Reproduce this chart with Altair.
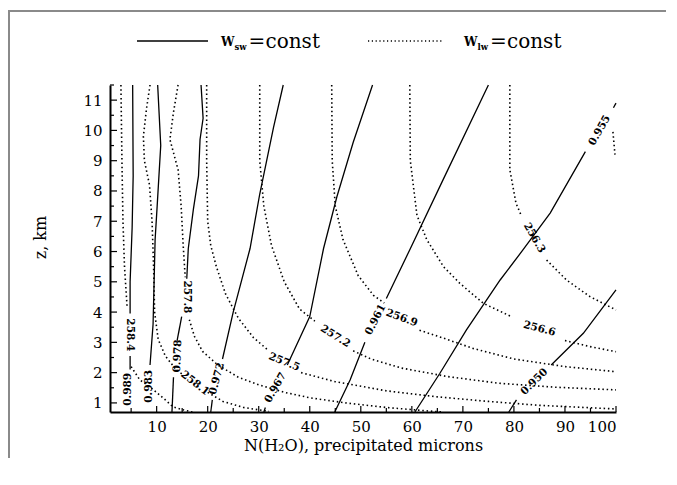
import altair as alt
import pandas as pd

# ---------------- data ----------------
# Solid contours: W_sw = const  (x = N(H2O) microns, z = km); None splits segments (label gap)
sw_labels = ["0.989", "0.983", "0.978", "0.972", "0.967", "0.961", "0.955", "0.950"]
sw_x = [
    [4.8, 4.8, None, 4.8, 4.8, 5.2, 5.4, 5.3],
    [8.7, 9.3, 9.7, 10.1, 10.8, 10.2],
    [13.0, 13.3, None, 14.0, 14.9, None, 15.9, 16.2, 17.2, 18.2, 18.5, 19.1, 18.7],
    [20.6, 20.9, None, 22.9, 25.0, 28.3, 30.2, 32.9, 34.8],
    [31.0, 31.3, None, 35.6, 40.0, 42.7, 45.3, 48.5, 52.3],
    [44.9, 47.9, 50.8, None, 55.0, 59.6, 66.2, 75.0],
    [60.6, 65.5, 70.7, 77.3, 81.8, 87.1, 94.0, None, 99.5, 100.0],
    [79.0, 80.5, None, 87.3, 93.6, 100.0],
]
sw_z = [
    [2.1, 2.55, None, 3.95, 5.0, 6.8, 8.5, 11.5],
    [2.25, 3.6, 6.4, 7.5, 9.5, 11.5],
    [0.7, 1.85, None, 3.05, 3.85, None, 5.1, 6.1, 7.4, 8.5, 9.7, 10.4, 11.5],
    [0.7, 1.1, None, 2.45, 4.0, 6.1, 7.9, 10.1, 11.5],
    [0.7, 0.85, None, 2.25, 3.85, 6.1, 7.8, 9.6, 11.5],
    [0.7, 1.76, 3.0, None, 4.45, 6.06, 8.4, 11.5],
    [0.7, 1.98, 3.41, 5.06, 6.06, 7.27, 9.3, None, 10.75, 10.9],
    [0.7, 1.1, None, 2.25, 3.3, 4.73],
]
sw_label_x = [4.3, 8.5, 14.1, 21.8, 33.3, 52.9, 96.8, 84.0]
sw_label_z = [1.45, 1.55, 2.55, 1.8, 1.5, 3.75, 10.0, 1.7]
sw_label_angle = [270, 270, 272, 285, 300, 297, 300, 315]

# Dotted contours: W_lw = const
lw_labels = ["258.4", "258.1", "257.8", "257.5", "257.2", "256.9", "256.6", "256.3", ""]
lw_x = [
    [3.0, 3.2, 3.4, 3.7, 4.2, None, 5.0, 6.7, 8.5, 10.1, 11.7, 13.2, 15.0, 17.0],
    [8.7, 8.0, 7.4, 7.6, 8.6, 9.1, 9.4, 9.6, 10.3, 11.7, 13.8, 15.0, None, 20.0, 23.0, 27.0, 32.0],
    [14.2, 13.3, 12.6, 14.2, 14.8, 15.2, 15.6, None, 16.4, 17.4, 19.0, 22.0, 26.0, 30.0, 35.0, 40.0, 47.0, 55.0, 62.0, 66.0],
    [19.8, 19.8, 20.0, 20.6, 21.7, 23.5, 26.0, 29.0, 31.8, None, 38.3, 45.0, 55.0, 65.0, 75.0, 85.0, 100.0],
    [30.2, 30.2, 31.0, 32.5, 35.0, 38.0, 41.0, None, 48.5, 52.0, 58.0, 67.0, 77.0, 88.0, 100.0],
    [44.3, 44.4, 45.0, 46.5, 49.5, 52.5, 54.6, None, 61.5, 66.0, 72.0, 80.0, 90.0, 100.0],
    [59.6, 59.7, 61.0, 62.9, 66.2, 69.4, 74.0, 79.5, None, 90.0, 94.9, 100.0],
    [79.2, 79.2, 80.4, 81.4, None, 86.4, 90.3, 94.9, 100.0],
    [99.4, 99.8],
]
lw_z = [
    [11.5, 9.0, 7.0, 5.5, 4.2, None, 2.2, 1.76, 1.55, 1.33, 1.1, 0.87, 0.78, 0.7],
    [11.5, 10.7, 9.8, 9.0, 8.2, 7.0, 5.5, 4.0, 3.1, 2.55, 2.1, 1.95, None, 1.35, 1.05, 0.85, 0.72],
    [11.5, 10.6, 9.7, 8.7, 7.5, 6.2, 5.15, None, 3.75, 3.2, 2.7, 2.25, 1.85, 1.6, 1.35, 1.17, 1.0, 0.85, 0.75, 0.7],
    [11.5, 9.0, 7.0, 6.2, 5.5, 4.6, 3.8, 3.15, 2.75, None, 2.0, 1.7, 1.4, 1.2, 1.05, 0.92, 0.8],
    [11.5, 9.0, 7.5, 6.2, 5.0, 4.1, 3.7, None, 2.72, 2.45, 2.15, 1.87, 1.65, 1.52, 1.43],
    [11.5, 9.0, 7.5, 6.4, 5.2, 4.55, 4.3, None, 3.4, 3.15, 2.8, 2.45, 2.2, 2.03],
    [11.5, 9.0, 7.2, 6.4, 5.5, 4.95, 4.29, 3.85, None, 3.06, 2.86, 2.69],
    [11.5, 8.7, 7.6, 7.2, None, 5.72, 5.06, 4.51, 4.07],
    [9.95, 9.2],
]
lw_label_x = [4.8, 17.5, 16.0, 35.0, 45.0, 58.0, 85.0, 84.0, 0]
lw_label_z = [3.25, 1.65, 4.5, 2.35, 3.2, 3.8, 3.45, 6.45, 0]
lw_label_angle = [90, 38, 90, 22, 32, 20, 15, 60, 0]

x_ticks_major = [10, 20, 30, 40, 50, 60, 70, 80, 90, 100]
x_ticks_minor = [5, 15, 25, 35, 45, 55, 65, 75, 85, 95]
y_ticks_major = [1, 2, 3, 4, 5, 6, 7, 8, 9, 10, 11]
y_ticks_minor = [1.5, 2.5, 3.5, 4.5, 5.5, 6.5, 7.5, 8.5, 9.5, 10.5, 11.5]

legend_symbols = ["W", "sw", "W", "lw"]
legend_rest = ["=", "const", "=", "const"]

X_DOMAIN = [0.86, 100]
Z_DOMAIN = [0.7, 11.5]
W, H = 506, 327
FONT = "DejaVu Serif"


def to_rows(xs, zs, prefix):
    rows = []
    for i, (xl, zl) in enumerate(zip(xs, zs)):
        seg = 0
        order = 0
        for xv, zv in zip(xl, zl):
            if xv is None:
                seg += 1
                continue
            rows.append({"id": f"{prefix}{i}_{seg}", "x": xv, "z": zv, "o": order})
            order += 1
    return pd.DataFrame(rows)


sw_df = to_rows(sw_x, sw_z, "sw")
lw_df = to_rows(lw_x, lw_z, "lw")

lab_df = pd.DataFrame({
    "text": sw_labels + [t for t in lw_labels if t],
    "x": sw_label_x + [v for v, t in zip(lw_label_x, lw_labels) if t],
    "z": sw_label_z + [v for v, t in zip(lw_label_z, lw_labels) if t],
    "angle": sw_label_angle + [v for v, t in zip(lw_label_angle, lw_labels) if t],
})

xs = alt.Scale(domain=X_DOMAIN, nice=False, zero=False)
ys = alt.Scale(domain=Z_DOMAIN, nice=False, zero=False)

x_axis = alt.Axis(
    title="N(H₂O), precipitated microns", values=x_ticks_major, ticks=False, grid=False,
    labelOverlap=False, labelBound=False, domainColor="black", domainWidth=2, labelFont=FONT,
    labelFontSize=15, labelColor="black", labelPadding=7, titleFont=FONT, titleFontSize=16,
    titleFontWeight="normal", titleColor="black", titlePadding=3)
y_axis = alt.Axis(
    title="z, km", values=y_ticks_major, ticks=False, grid=False, labelOverlap=False,
    labelBound=False, domainColor="black", domainWidth=2, labelFont=FONT, labelFontSize=15,
    labelColor="black", labelPadding=8, titleFont=FONT, titleFontSize=16,
    titleFontWeight="normal", titleColor="black", titleX=-62, titleY=152)

x_enc = alt.X("x:Q", scale=xs, axis=x_axis)
y_enc = alt.Y("z:Q", scale=ys, axis=y_axis)

dotted = alt.Chart(lw_df).mark_line(color="black", strokeWidth=1.6, strokeDash=[1.5, 2.8]).encode(
    x=x_enc, y=y_enc, detail="id:N", order="o:Q")

solid = alt.Chart(sw_df).mark_line(color="black", strokeWidth=1.3).encode(
    x=x_enc, y=y_enc, detail="id:N", order="o:Q")

labels = alt.Chart(lab_df).mark_text(font=FONT, fontSize=10.5, fontWeight="bold", color="black").encode(
    x=x_enc, y=y_enc, text="text:N",
    angle=alt.Angle("angle:Q", scale=None))

xt_major = alt.Chart(pd.DataFrame({"x": x_ticks_major})).mark_rule(color="black", strokeWidth=1.2).encode(
    x=x_enc, y=alt.value(H), y2=alt.value(H - 6))
xt_minor = alt.Chart(pd.DataFrame({"x": x_ticks_minor})).mark_rule(color="black", strokeWidth=1.2).encode(
    x=x_enc, y=alt.value(H), y2=alt.value(H - 4))
yt_major = alt.Chart(pd.DataFrame({"z": y_ticks_major})).mark_rule(color="black", strokeWidth=1.2).encode(
    y=y_enc, x=alt.value(0), x2=alt.value(7))
yt_minor = alt.Chart(pd.DataFrame({"z": y_ticks_minor})).mark_rule(color="black", strokeWidth=1.2).encode(
    y=y_enc, x=alt.value(0), x2=alt.value(4))

# legend (drawn above the plot)
leg_solid = alt.Chart(pd.DataFrame({"k": [0]})).mark_rule(color="black", strokeWidth=1.4).encode(
    x=alt.value(27), x2=alt.value(98), y=alt.value(-44))
leg_dot = alt.Chart(pd.DataFrame({"k": [0]})).mark_rule(color="black", strokeWidth=1.4, strokeDash=[1.2, 2.6]).encode(
    x=alt.value(258), x2=alt.value(333), y=alt.value(-44))
leg_sym_df = pd.DataFrame({
    "t": legend_symbols,
    "px": [111, 124.5, 354, 367.5],
    "py": [-43, -38, -43, -38],
    "fs": [12, 8.5, 12, 8.5],
})
leg_rest_df = pd.DataFrame({
    "t": legend_rest,
    "px": [138.5, 155.5, 380, 397],
    "py": [-43, -43, -43, -43],
})
leg_sym = alt.Chart(leg_sym_df).mark_text(font=FONT, color="black", align="left", baseline="middle",
                                          fontWeight="bold").encode(
    x=alt.X("px:Q", scale=None, axis=None), y=alt.Y("py:Q", scale=None, axis=None), text="t:N",
    size=alt.Size("fs:Q", scale=None, legend=None))
leg_rest = alt.Chart(leg_rest_df).mark_text(font=FONT, color="black", align="left", baseline="middle",
                                            fontSize=20).encode(
    x=alt.X("px:Q", scale=None, axis=None), y=alt.Y("py:Q", scale=None, axis=None), text="t:N")

# grey outer frame (only its top and left edges fall inside the picture)
frame = alt.Chart(pd.DataFrame({"k": [0]})).mark_rect(fill=None, stroke="#8a8a8a", strokeWidth=2).encode(
    x=alt.value(-101), x2=alt.value(900), y=alt.value(-74), y2=alt.value(900))

chart = alt.layer(
    frame, dotted, solid, labels, xt_major, xt_minor, yt_major, yt_minor,
    leg_solid, leg_dot, leg_sym, leg_rest
).properties(
    width=W, height=H, autosize="none",
    padding={"left": 102, "top": 77, "right": 50, "bottom": 46},
    background="white",
).configure_view(stroke=None)

chart.save("out.html", embed_options={"renderer": "svg", "actions": False})
